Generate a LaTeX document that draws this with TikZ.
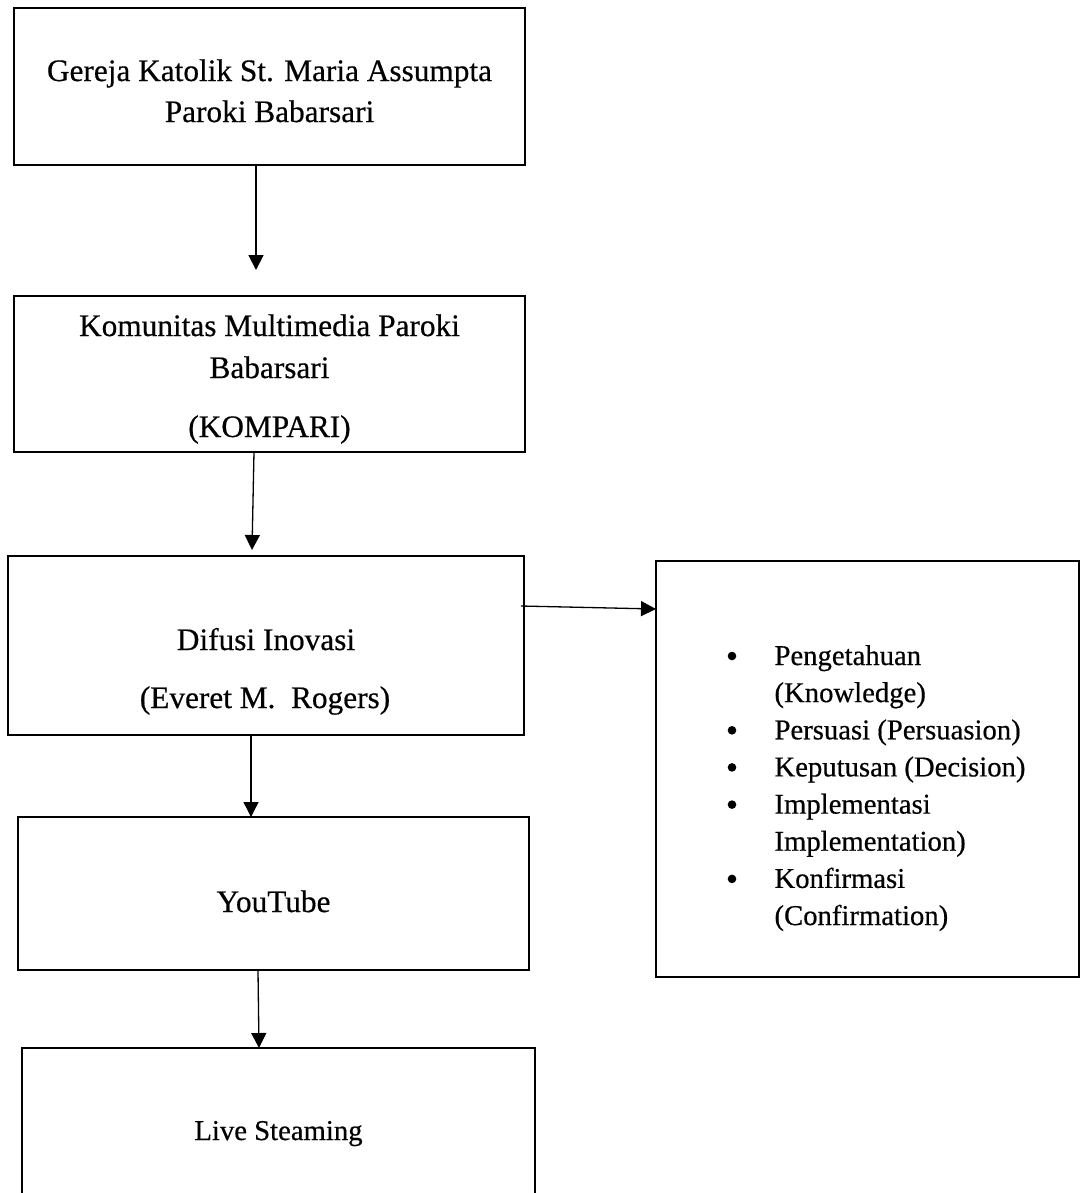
\documentclass[tikz,border=0pt]{standalone}
\usepackage{fontspec}
\setmainfont[FakeBold=0.5]{Liberation Serif}
\usetikzlibrary{arrows.meta}
\begin{document}
\begin{tikzpicture}[x=0.3834pt,y=-0.3834pt,
  box/.style={draw, line width=1.05pt, rectangle, inner sep=0pt, outer sep=0pt, anchor=north west},
  txt/.style={inner sep=0pt, anchor=base, font=\fontsize{12}{14}\selectfont},
  smalltxt/.style={inner sep=0pt, anchor=base west, font=\fontsize{11}{13}\selectfont},
  bul/.style={circle, fill, inner sep=0pt, minimum size=3.3pt},
  arr/.style={-{Triangle[width=5.75pt,length=5.75pt]}, line width=0.5pt},
]
\useasboundingbox (0,0) rectangle (1085,1193);
\clip (0,0) rectangle (1085,1193);

% boxes
\node[box, minimum width={511*0.3834pt}, minimum height={157*0.3834pt}] (b1) at (14,8) {};
\node[box, minimum width={511*0.3834pt}, minimum height={156*0.3834pt}] (b2) at (14,296) {};
\node[box, minimum width={516*0.3834pt}, minimum height={179*0.3834pt}] (b3) at (8,556) {};
\node[box, minimum width={511*0.3834pt}, minimum height={153*0.3834pt}] (b4) at (18,817) {};
\node[box, minimum width={513*0.3834pt}, minimum height={260*0.3834pt}] (b5) at (22,1048) {};
\node[box, minimum width={423*0.3834pt}, minimum height={416*0.3834pt}] (b6) at (656,561) {};

% texts
\node[txt] (g1) at (269.5,81) {Gereja Katolik St. Maria Assumpta};
\node[txt] (g2) at (269.5,122) {Paroki Babarsari};
\node[txt] (k1) at (269.5,336) {Komunitas Multimedia Paroki};
\node[txt] (k2) at (269.5,378) {Babarsari};
\node[txt] (k3) at (269.5,437) {(KOMPARI)};
\node[txt] (d1) at (266,650) {Difusi Inovasi};
\node[txt] (d2) at (265,708) {(Everet M.\ \ Rogers)};
\node[txt] (y1) at (273.5,912) {YouTube};
\node[txt, font=\fontsize{11}{13}\selectfont] (l1) at (278.5,1140) {Live Steaming};

% list
\node[smalltxt] (i1) at (774,665) {Pengetahuan};
\node[smalltxt] (i1b) at (774,702.1) {(Knowledge)};
\node[smalltxt] (i2) at (774,739.3) {Persuasi (Persuasion)};
\node[smalltxt] (i3) at (774,776.4) {Keputusan (Decision)};
\node[smalltxt] (i4) at (774,813.6) {Implementasi};
\node[smalltxt] (i4b) at (774,850.7) {Implementation)};
\node[smalltxt] (i5) at (774,887.9) {Konfirmasi};
\node[smalltxt] (i5b) at (774,925) {(Confirmation)};
\node[bul] (p1) at (732,656) {};
\node[bul] (p2) at (732,730.3) {};
\node[bul] (p3) at (732,767.4) {};
\node[bul] (p4) at (732,804.6) {};
\node[bul] (p5) at (732,878.9) {};

% connectors
\coordinate (t1) at (256,270);
\draw[arr, line width=0.7pt] (b1.south -| t1) -- (t1);
\coordinate (s2) at (254,452);
\coordinate (t2) at (252,550);
\draw[arr] (s2) -- (t2);
\coordinate (s3) at (251,735);
\draw[arr] (s3) -- (b4.north -| s3);
\coordinate (s4) at (258,970);
\coordinate (t4) at (259,1048);
\draw[arr] (s4) -- (t4);
\coordinate (s5) at (521,606);
\coordinate (t5) at (656,609);
\draw[arr] (s5) -- (t5);
\end{tikzpicture}
\end{document}
